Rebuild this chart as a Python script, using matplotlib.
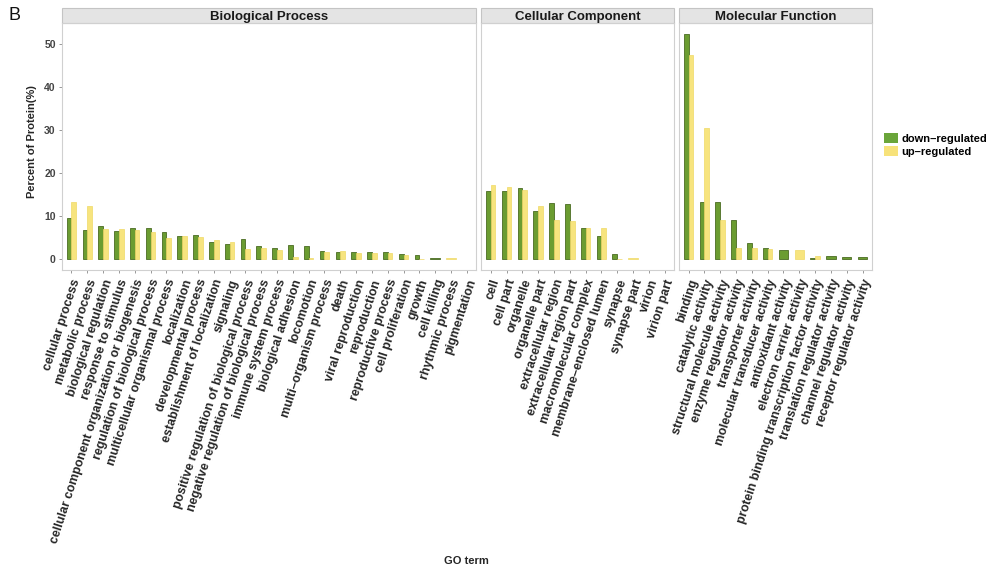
import numpy as np
import matplotlib
matplotlib.use("Agg")
import matplotlib.pyplot as plt
from matplotlib.patches import Rectangle, Patch

plt.rcParams["font.family"] = ["Liberation Sans", "DejaVu Sans"]

# GO terms and percentages per ontology (None = no proteins in that group)
bp_terms = [
    "cellular process", "metabolic process", "biological regulation",
    "response to stimulus", "cellular component organization or biogenesis",
    "regulation of biological process", "multicellular organismal process",
    "localization", "developmental process", "establishment of localization",
    "signaling", "positive regulation of biological process",
    "negative regulation of biological process", "immune system process",
    "biological adhesion", "locomotion", "multi\u2013organism process", "death",
    "viral reproduction", "reproduction", "reproductive process",
    "cell proliferation", "growth", "cell killing", "rhythmic process",
    "pigmentation",
]
bp_down = [9.5, 6.7, 7.7, 6.5, 7.1, 7.1, 6.2, 5.3, 5.6, 4.0, 3.4, 4.6, 2.9,
           2.6, 3.3, 3.1, 1.9, 1.5, 1.5, 1.7, 1.6, 1.1, 0.8, 0.1, None, None]
bp_up = [13.3, 12.3, 7.0, 7.0, 6.8, 6.2, 4.8, 5.3, 5.0, 4.4, 4.0, 2.4, 2.6,
         2.0, 0.5, 0.3, 1.7, 1.8, 1.4, 1.4, 1.3, 1.0, 0.0, None, 0.1, None]

cc_terms = [
    "cell", "cell part", "organelle", "organelle part", "extracellular region",
    "extracellular region part", "macromolecular complex",
    "membrane\u2013enclosed lumen", "synapse", "synapse part", "virion",
    "virion part",
]
cc_down = [15.7, 15.7, 16.4, 11.2, 13.1, 12.8, 7.1, 5.2, 1.1, None, None, None]
cc_up = [17.2, 16.8, 16.0, 12.3, 9.1, 8.7, 7.1, 7.1, 0.0, 0.1, None, None]

mf_terms = [
    "binding", "catalytic activity", "structural molecule activity",
    "enzyme regulator activity", "transporter activity",
    "molecular transducer activity", "antioxidant activity",
    "electron carrier activity",
    "protein binding transcription factor activity",
    "translation regulator activity", "channel regulator activity",
    "receptor regulator activity",
]
mf_down = [52.3, 13.3, 13.3, 9.1, 3.6, 2.6, 2.1, None, 0.3, 0.7, 0.4, 0.4]
mf_up = [47.4, 30.4, 9.1, 2.5, 2.6, 2.3, None, 2.0, 0.6, None, None, None]

panels = [
    ("Biological Process", bp_terms, bp_down, bp_up),
    ("Cellular Component", cc_terms, cc_down, cc_up),
    ("Molecular Function", mf_terms, mf_down, mf_up),
]

DOWN_COLOR = "#6b9c31"
DOWN_EDGE = "#4a6b22"
UP_COLOR = "#f7e47e"
UP_EDGE = "#efd965"
BORDER = "#d0d0d0"
TEXT = "#262626"
DODGE = 0.6

W, H = 998, 571
fig = plt.figure(figsize=(W / 100, H / 100), dpi=100)

# panel geometry in pixels; panel widths follow the number of terms
left_px, right_px, top_px, bottom_px, gap_px = 62, 872, 23, 270, 5
strip_px = 15
units = [len(p[1]) + 0.2 for p in panels]
px_per_unit = (right_px - left_px - gap_px * (len(panels) - 1)) / sum(units)

x0 = left_px
axes = []
for k, (title, terms, down, up) in enumerate(panels):
    w = units[k] * px_per_unit
    ax = fig.add_axes([x0 / W, 1 - bottom_px / H, w / W, (bottom_px - top_px) / H])
    x0 += w + gap_px
    axes.append(ax)

    pos = np.arange(1, len(terms) + 1)
    for x, d, u in zip(pos, down, up):
        if d is not None and u is not None:
            ax.bar(x - DODGE / 4, d, width=DODGE / 2, color=DOWN_COLOR,
                   edgecolor=DOWN_EDGE, linewidth=0.6)
            ax.bar(x + DODGE / 4, u, width=DODGE / 2, color=UP_COLOR,
                   edgecolor=UP_EDGE, linewidth=0.5)
        elif d is not None:
            ax.bar(x, d, width=DODGE, color=DOWN_COLOR,
                   edgecolor=DOWN_EDGE, linewidth=0.6)
        elif u is not None:
            ax.bar(x, u, width=DODGE, color=UP_COLOR,
                   edgecolor=UP_EDGE, linewidth=0.5)

    ax.set_xlim(0.4, len(terms) + 0.6)
    ax.set_ylim(-2.6, 54.9)
    ax.set_xticks(pos)
    ax.set_xticklabels(terms, rotation=72, ha="right", va="top",
                       rotation_mode="anchor", fontsize=9, fontweight="bold",
                       color=TEXT)
    ax.tick_params(axis="x", length=2.5, width=0.6, color="#888888", pad=3)
    ax.set_yticks([0, 10, 20, 30, 40, 50])
    if k == 0:
        ax.tick_params(axis="y", length=2.5, width=0.6, color="#888888",
                       labelsize=7.5, labelcolor="#444444", pad=2)
        for lab in ax.get_yticklabels():
            lab.set_fontweight("bold")
    else:
        ax.tick_params(axis="y", left=False, labelleft=False)
    for sp in ax.spines.values():
        sp.set_color(BORDER)
        sp.set_linewidth(0.8)

    # facet strip on top of the panel
    sh = strip_px / (bottom_px - top_px)
    ax.add_patch(Rectangle((0, 1), 1, sh, transform=ax.transAxes,
                           clip_on=False, facecolor="#e4e4e4",
                           edgecolor="#c4c4c4", linewidth=0.8))
    ax.text(0.5, 1 + sh * 0.5, title, transform=ax.transAxes, ha="center",
            va="center_baseline", fontsize=9.5, fontweight="bold",
            color="#1a1a1a")

fig.text(32 / W, 1 - 142 / H, "Percent of Protein(%)", rotation=90,
         ha="center", va="center", fontsize=8, fontweight="bold", color=TEXT)
fig.text(466 / W, 1 - 561 / H, "GO term", ha="center", va="center",
         fontsize=8, fontweight="bold", color=TEXT)
fig.text(9 / W, 1 - 16 / H, "B", ha="left", va="center", fontsize=13,
         color="#111111")

handles = [Patch(facecolor="#6aa53a", edgecolor="none", label="down\u2013regulated"),
           Patch(facecolor="#f7e27a", edgecolor="none", label="up\u2013regulated")]
fig.legend(handles=handles, loc="center left",
           bbox_to_anchor=(880 / W, 1 - 145 / H), frameon=False,
           prop={"size": 8, "weight": "bold"}, handlelength=1.2,
           handleheight=1.0, handletextpad=0.3, labelspacing=0.15,
           borderaxespad=0)

fig.savefig("out.png", dpi=100)
